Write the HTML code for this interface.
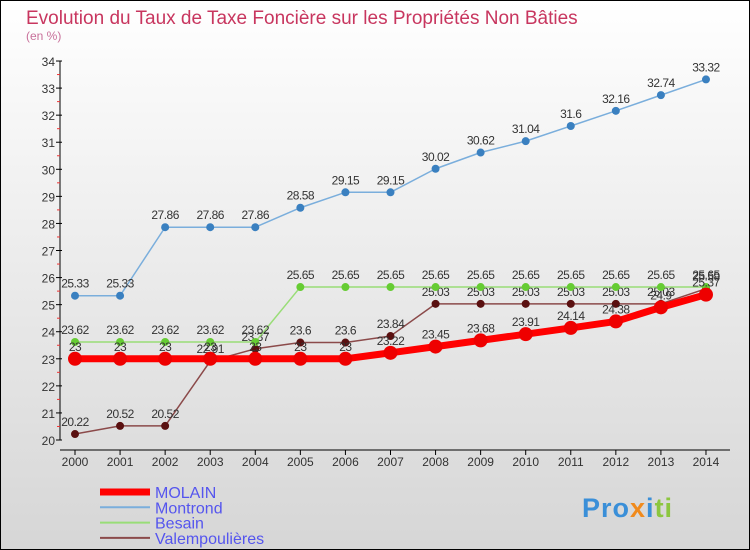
<!DOCTYPE html>
<html><head><meta charset="utf-8"><style>
body{margin:0;}
svg{display:block;font-family:"Liberation Sans",sans-serif;}
</style></head><body>
<svg id="c" width="750" height="550" xmlns="http://www.w3.org/2000/svg">
<defs><linearGradient id="bg" x1="0" y1="0" x2="0" y2="1"><stop offset="0" stop-color="#ffffff"/><stop offset="1" stop-color="#d6d6d6"/></linearGradient></defs>
<rect x="0.5" y="0.5" width="749" height="549" fill="url(#bg)" stroke="#000"/>
<text x="26" y="24" font-size="19" fill="#c8365f">Evolution du Taux de Taxe Foncière sur les Propriétés Non Bâties</text>
<text x="26" y="40" font-size="12" fill="#c8709a">(en %)</text>
<g id="axes"></g>
<g id="series"></g>
<g id="legend"></g>
<g>
<text x="582" y="517" font-size="27" font-weight="bold" letter-spacing="1"><tspan fill="#3a8fd8">Pro</tspan><tspan fill="#f08a1c">x</tspan><tspan fill="#3a8fd8">i</tspan><tspan fill="#8cc63f">ti</tspan></text>
</g>
</svg>
<script>
const years=[2000,2001,2002,2003,2004,2005,2006,2007,2008,2009,2010,2011,2012,2013,2014];
const molain=[23,23,23,23,23,23,23,23.22,23.45,23.68,23.91,24.14,24.38,24.9,25.37];
const montrond=[25.33,25.33,27.86,27.86,27.86,28.58,29.15,29.15,30.02,30.62,31.04,31.6,32.16,32.74,33.32];
const besain=[23.62,23.62,23.62,23.62,23.62,25.65,25.65,25.65,25.65,25.65,25.65,25.65,25.65,25.65,25.65];
const valemp=[20.22,20.52,20.52,22.91,23.37,23.6,23.6,23.84,25.03,25.03,25.03,25.03,25.03,25.03,25.59];
const yTicks=[20,21,22,23,24,25,26,27,28,29,30,31,32,33,34];
const NS="http://www.w3.org/2000/svg";
const x=i=>75+i*45.07;
const y=v=>440-(v-20)*27.07;
function mk(tag,attrs,parent,txt){const e=document.createElementNS(NS,tag);for(const k in attrs)e.setAttribute(k,attrs[k]);if(txt!==undefined)e.textContent=txt;parent.appendChild(e);return e;}
const ax=document.getElementById('axes');
const yl=mk('line',{x1:60,y1:61,x2:60,y2:440,stroke:'#000'},ax);


const xl=mk('line',{x1:60,y1:450,x2:730,y2:450,stroke:'#000'},ax);


yTicks.forEach(t=>{
 mk('line',{x1:56,y1:y(t),x2:62,y2:y(t),stroke:'#000'},ax);
 if(t<34)mk('line',{x1:57,y1:y(t+0.5),x2:60,y2:y(t+0.5),stroke:'#e33'},ax);
 const tl=mk('text',{x:55,y:y(t)+5,'font-size':12,'text-anchor':'end',fill:'#333'},ax,t);
 
 
});
years.forEach((yr,i)=>{
 mk('line',{x1:x(i),y1:450,x2:x(i),y2:455,stroke:'#000'},ax);
 const tl=mk('text',{x:x(i),y:466,'font-size':12,'text-anchor':'middle',fill:'#333'},ax,yr);
 
 
});
const sg=document.getElementById('series');
function series(vals,color,dot,w,r,name,labels){
 const g=mk('g',{},sg);
 
 
 const ln=mk('polyline',{points:vals.map((v,i)=>x(i)+','+y(v)).join(' '),fill:'none',stroke:color,'stroke-width':w,'stroke-linejoin':'round'},g);
 
 
 vals.forEach((v,i)=>{
  const c=mk('circle',{cx:x(i),cy:y(v),r:r,fill:dot},g);
  
  
  if(labels){const t=mk('text',{x:x(i),y:y(v)-8,'font-size':12,'text-anchor':'middle',fill:'#333','letter-spacing':'-0.5'},g,v);
  
  }
 });
}
series(valemp,'#8b4a4a','#5a1010',1.5,4,'valempoulieres',true);
series(besain,'#99dd77','#66cc33',1.5,4,'besain',true);
series(montrond,'#7aaedc','#3a80c0',1.5,4,'montrond',true);
series(molain,'#ff0000','#ee0000',7,7,'molain',true);
const lg=document.getElementById('legend');
[['MOLAIN','#ff0000',7],['Montrond','#7aaedc',2],['Besain','#99dd77',2],['Valempoulières','#8b4a4a',2]].forEach((d,i)=>{
 const yy=492+i*15.3;
 const g=mk('g',{},lg);
 
 
 mk('line',{x1:100,y1:yy,x2:150,y2:yy,stroke:d[1],'stroke-width':d[2]},g);
 mk('text',{x:155,y:yy+6,'font-size':16,fill:'#5555ee'},g,d[0]);
});
</script>
</body></html>
